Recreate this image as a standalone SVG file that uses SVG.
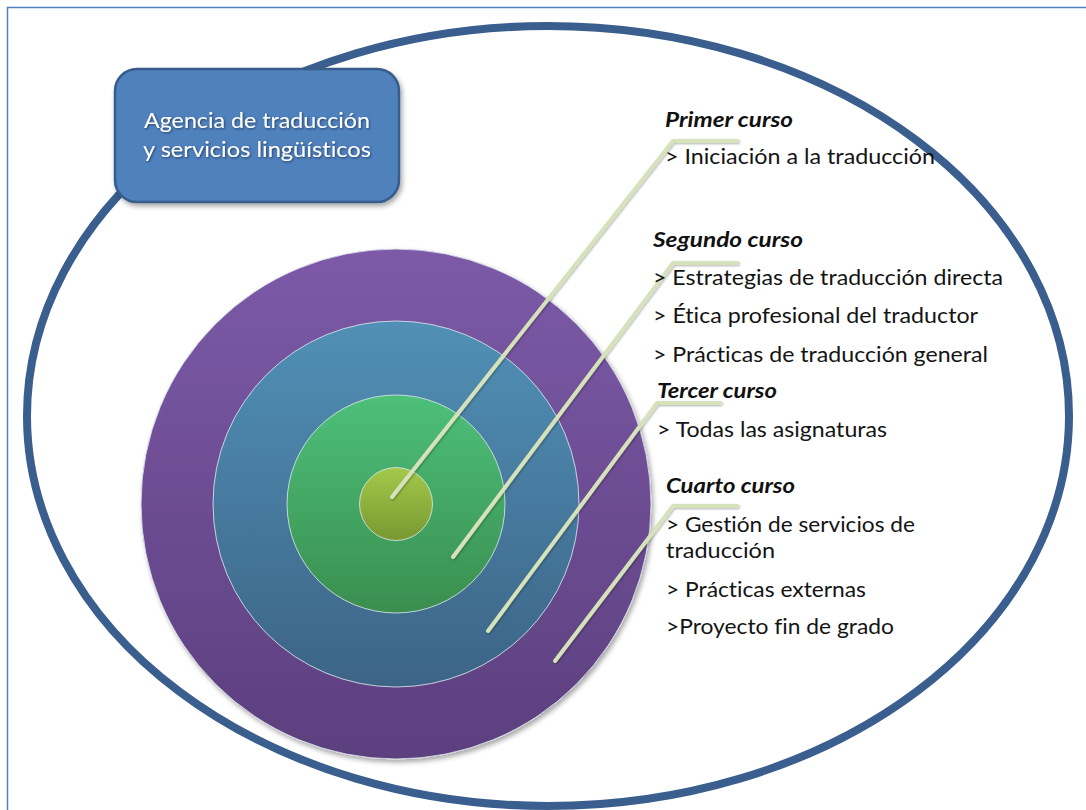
<svg xmlns="http://www.w3.org/2000/svg" width="1086" height="810" viewBox="0 0 1086 810">
  <defs>
    <linearGradient id="gPurple" x1="0" y1="0" x2="0" y2="1">
      <stop offset="0" stop-color="#7C5AA8"/>
      <stop offset="1" stop-color="#5C3F7E"/>
    </linearGradient>
    <linearGradient id="gBlue" x1="0" y1="0" x2="0" y2="1">
      <stop offset="0" stop-color="#5190B6"/>
      <stop offset="1" stop-color="#3C6486"/>
    </linearGradient>
    <linearGradient id="gGreen" x1="0" y1="0" x2="0" y2="1">
      <stop offset="0" stop-color="#4DC07A"/>
      <stop offset="1" stop-color="#3A8E4E"/>
    </linearGradient>
    <linearGradient id="gLime" x1="0" y1="0" x2="0" y2="1">
      <stop offset="0" stop-color="#A3C94B"/>
      <stop offset="1" stop-color="#789830"/>
    </linearGradient>
    <filter id="shadow" x="-20%" y="-20%" width="140%" height="140%">
      <feDropShadow dx="2" dy="3" stdDeviation="2.5" flood-color="#000" flood-opacity="0.35"/>
    </filter>
    <filter id="lineShadow" x="-10%" y="-10%" width="120%" height="120%">
      <feDropShadow dx="1" dy="1" stdDeviation="1" flood-color="#000" flood-opacity="0.3"/>
    </filter>
    <filter id="textShadow" x="-10%" y="-30%" width="120%" height="160%">
      <feDropShadow dx="1" dy="1" stdDeviation="0.8" flood-color="#1c3350" flood-opacity="0.8"/>
    </filter>
  </defs>
  <style>
    text { font-variant-ligatures: none; }
    .frame { fill: none; stroke: #4F81BD; stroke-width: 1.5; }
    .outer { fill: none; stroke: #3A5F8E; stroke-width: 8; }
    .ring { stroke: #DCE4EA; stroke-width: 1; stroke-opacity: 0.85; }
    .conn { fill: none; stroke: #D5E2BA; stroke-width: 4; stroke-linecap: round; stroke-linejoin: round; }
    .title { font-family: Lato, "Liberation Sans", sans-serif; font-size: 21px; font-weight: bold; font-style: italic; fill: #111; }
    .item { font-family: Lato, "Liberation Sans", sans-serif; font-size: 21px; fill: #141414; }
    .box { fill: #4F81BD; stroke: #385D8A; stroke-width: 2.5; }
    .boxText { font-family: Lato, "Liberation Sans", sans-serif; font-size: 21px; fill: #fff; }
  </style>

  <rect class="frame" x="7.5" y="7.5" width="1100" height="900"/>

  <!-- outer ellipse -->
  <g id="outer-ellipse">
    <ellipse class="outer" cx="548" cy="416" rx="521" ry="390"/>
  </g>

  <!-- concentric rings -->
  <g id="ring-4">
    <circle class="ring" cx="396" cy="504" r="255" fill="url(#gPurple)" filter="url(#shadow)"/>
  </g>
  <g id="ring-3">
    <circle class="ring" cx="396" cy="504" r="183" fill="url(#gBlue)"/>
  </g>
  <g id="ring-2">
    <circle class="ring" cx="396" cy="504" r="109" fill="url(#gGreen)"/>
  </g>
  <g id="ring-1">
    <circle class="ring" cx="396" cy="504" r="36.5" fill="url(#gLime)"/>
  </g>

  <!-- agency box -->
  <g id="agency">
    <rect class="box" x="115" y="69" width="284" height="133" rx="22" ry="22" filter="url(#shadow)"/>
    <g filter="url(#textShadow)">
      <text class="boxText" x="257" y="128" text-anchor="middle" textLength="226" lengthAdjust="spacingAndGlyphs">Agencia de traducción</text>
      <text class="boxText" x="257" y="157" text-anchor="middle" textLength="228" lengthAdjust="spacingAndGlyphs">y servicios lingüísticos</text>
    </g>
  </g>

  <!-- connectors from rings to course lists -->
  <g id="connectors" filter="url(#lineShadow)">
    <polyline class="conn" points="392,497 673,141 737,141"/>
    <polyline class="conn" points="453,557 673,263 737,263"/>
    <polyline class="conn" points="488,631 657,403 720,403"/>
    <polyline class="conn" points="555,661 673,506 737,506"/>
  </g>

  <!-- course lists -->
  <g id="curso-1">
    <text class="title" x="665" y="127" textLength="128" lengthAdjust="spacingAndGlyphs">Primer curso</text>
    <text class="item" x="665" y="164" textLength="270" lengthAdjust="spacingAndGlyphs">&gt; Iniciación a la traducción</text>
  </g>
  <g id="curso-2">
    <text class="title" x="653" y="247" textLength="150" lengthAdjust="spacingAndGlyphs">Segundo curso</text>
    <text class="item" x="653" y="285" textLength="350" lengthAdjust="spacingAndGlyphs">&gt; Estrategias de traducción directa</text>
    <text class="item" x="653" y="323" textLength="325" lengthAdjust="spacingAndGlyphs">&gt; Ética profesional del traductor</text>
    <text class="item" x="653" y="362" textLength="335" lengthAdjust="spacingAndGlyphs">&gt; Prácticas de traducción general</text>
  </g>
  <g id="curso-3">
    <text class="title" x="657" y="398" textLength="120" lengthAdjust="spacingAndGlyphs">Tercer curso</text>
    <text class="item" x="657" y="437" textLength="230" lengthAdjust="spacingAndGlyphs">&gt; Todas las asignaturas</text>
  </g>
  <g id="curso-4">
    <text class="title" x="666" y="493" textLength="129" lengthAdjust="spacingAndGlyphs">Cuarto curso</text>
    <text class="item" x="666" y="532" textLength="249" lengthAdjust="spacingAndGlyphs">&gt; Gestión de servicios de</text>
    <text class="item" x="666" y="558" textLength="109" lengthAdjust="spacingAndGlyphs">traducción</text>
    <text class="item" x="666" y="597" textLength="200" lengthAdjust="spacingAndGlyphs">&gt; Prácticas externas</text>
    <text class="item" x="666" y="634" textLength="228" lengthAdjust="spacingAndGlyphs">&gt;Proyecto fin de grado</text>
  </g>
</svg>
